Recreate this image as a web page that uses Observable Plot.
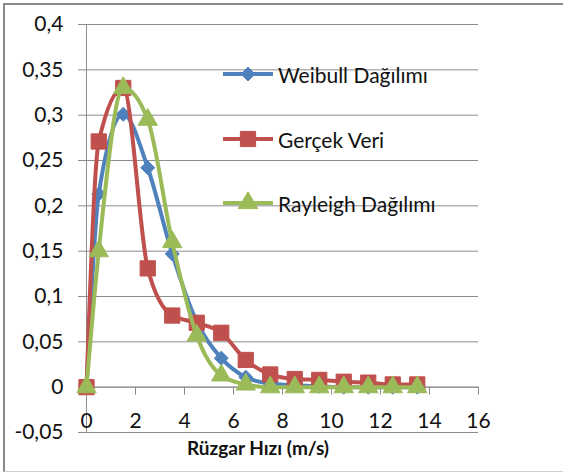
<!DOCTYPE html>
<html>
<head>
<meta charset="utf-8">
<script src="https://cdn.jsdelivr.net/npm/d3@7"></script>
<script src="https://cdn.jsdelivr.net/npm/@observablehq/plot@0.6"></script>
<style>
  html, body { margin: 0; padding: 0; background: #fff; }
  #wrap { position: relative; width: 563px; height: 473px; font-family: Lato, "Open Sans", sans-serif; }
  #frame { position: absolute; left: 3px; top: 3px; width: 600px; height: 466px;
           border-left: 2px solid #8a8a8a; border-top: 2px solid #8a8a8a; border-bottom: 1px solid #d0d0d0; pointer-events: none; }
  .leg { position: absolute; display: flex; align-items: center; font-size: 21px; color: #111; white-space: nowrap; }
  .leg svg { margin-right: 4px; }
</style>
</head>
<body>
<div id="wrap"><div id="frame"></div></div>
<script>
// ---- data ----
const speeds   = [0, 0.5, 1.5, 2.5, 3.5, 4.5, 5.5, 6.5, 7.5, 8.5, 9.5, 10.5, 11.5, 12.5, 13.5];
const weibull  = [0, 0.213, 0.301, 0.242, 0.147, 0.072, 0.032, 0.011, 0.004, 0.002, 0.001, 0, 0, 0, 0];
const gercek   = [0, 0.271, 0.330, 0.131, 0.079, 0.071, 0.060, 0.030, 0.014, 0.009, 0.008, 0.006, 0.005, 0.003, 0.003];
const rayleigh = [0, 0.150, 0.330, 0.295, 0.160, 0.057, 0.013, 0.003, 0, 0, 0, 0, 0, 0, 0];
const seriesNames = ["Weibull Dağılımı", "Gerçek Veri", "Rayleigh Dağılımı"];
const xTicks = [0, 2, 4, 6, 8, 10, 12, 14, 16];
const yTicks = [-0.05, 0, 0.05, 0.1, 0.15, 0.2, 0.25, 0.3, 0.35, 0.4];
const xTitle = "Rüzgar Hızı (m/s)";

const colors = ["#4F81BD", "#C0504D", "#9BBB59"];
const symbols = ["diamond2", "square", "triangle"];
const radii = [6.3, 8.6, 7.2];
const values = [weibull, gercek, rayleigh];

const fmt = d => String(d).replace(".", ",");

const seriesMarks = values.flatMap((vals, i) => {
  const data = speeds.map((s, j) => ({x: s, y: vals[j]}));
  return [
    Plot.line(data, {x: "x", y: "y", stroke: colors[i], strokeWidth: 4, curve: "monotone-x"}),
    Plot.dot(data, {x: "x", y: "y", symbol: symbols[i], r: radii[i], fill: colors[i], stroke: colors[i], strokeWidth: 1})
  ];
});

const chart = Plot.plot({
  width: 563,
  height: 473,
  marginLeft: 86,
  marginRight: 85,
  marginTop: 24,
  marginBottom: 41,
  style: {fontFamily: "Lato, 'Open Sans', sans-serif", fontSize: "21px", background: "transparent", color: "#111"},
  x: {domain: [0, 16], axis: null},
  y: {domain: [-0.05, 0.4], axis: null},
  marks: [
    Plot.gridY(yTicks, {stroke: "#8c8c8c", strokeOpacity: 1, strokeWidth: 1}),
    Plot.axisY({ticks: yTicks, tickSize: 8, tickPadding: 15, tickFormat: fmt, stroke: "#8c8c8c", fontSize: 21, fill: "#111", label: null}),
    Plot.ruleX([0], {stroke: "#8c8c8c", strokeWidth: 1}),
    Plot.ruleY([0], {x1: 0, x2: 16, stroke: "#8c8c8c", strokeWidth: 1}),
    Plot.ruleX(xTicks, {x: d => d, y1: 0, y2: -0.0088, stroke: "#8c8c8c", strokeWidth: 1}),
    Plot.text(xTicks, {x: d => d, y: -0.05, dy: -11, text: d => String(d), lineAnchor: "middle", fontSize: 21, fill: "#111"}),
    Plot.text([xTitle], {x: 7, y: -0.05, dy: 16, text: d => d, lineAnchor: "middle", fontWeight: "bold", fontSize: 19, fill: "#111"}),
    ...seriesMarks
  ]
});
const wrap = document.getElementById("wrap");
chart.style.position = "absolute";
chart.style.left = "0px";
chart.style.top = "0px";
wrap.appendChild(chart);

// ---- legend (inside plot area, right side) ----
const legendTops = [74, 139, 203];
seriesNames.forEach((name, i) => {
  const row = document.createElement("div");
  row.className = "leg";
  row.style.left = "222px";
  row.style.top = (legendTops[i] - 15) + "px";
  row.style.height = "30px";
  const sym = d3.symbol(i === 0 ? d3.symbolDiamond2 : i === 1 ? d3.symbolSquare : d3.symbolTriangle, Math.PI * radii[i] * radii[i])();
  row.innerHTML = `<svg width="52" height="30" viewBox="0 0 52 30"><line x1="1" x2="51" y1="15" y2="15" stroke="${colors[i]}" stroke-width="4"/><path d="${sym}" transform="translate(26,15)" fill="${colors[i]}" stroke="${colors[i]}"/></svg><span>${name}</span>`;
  wrap.appendChild(row);
});
</script>
</body>
</html>
